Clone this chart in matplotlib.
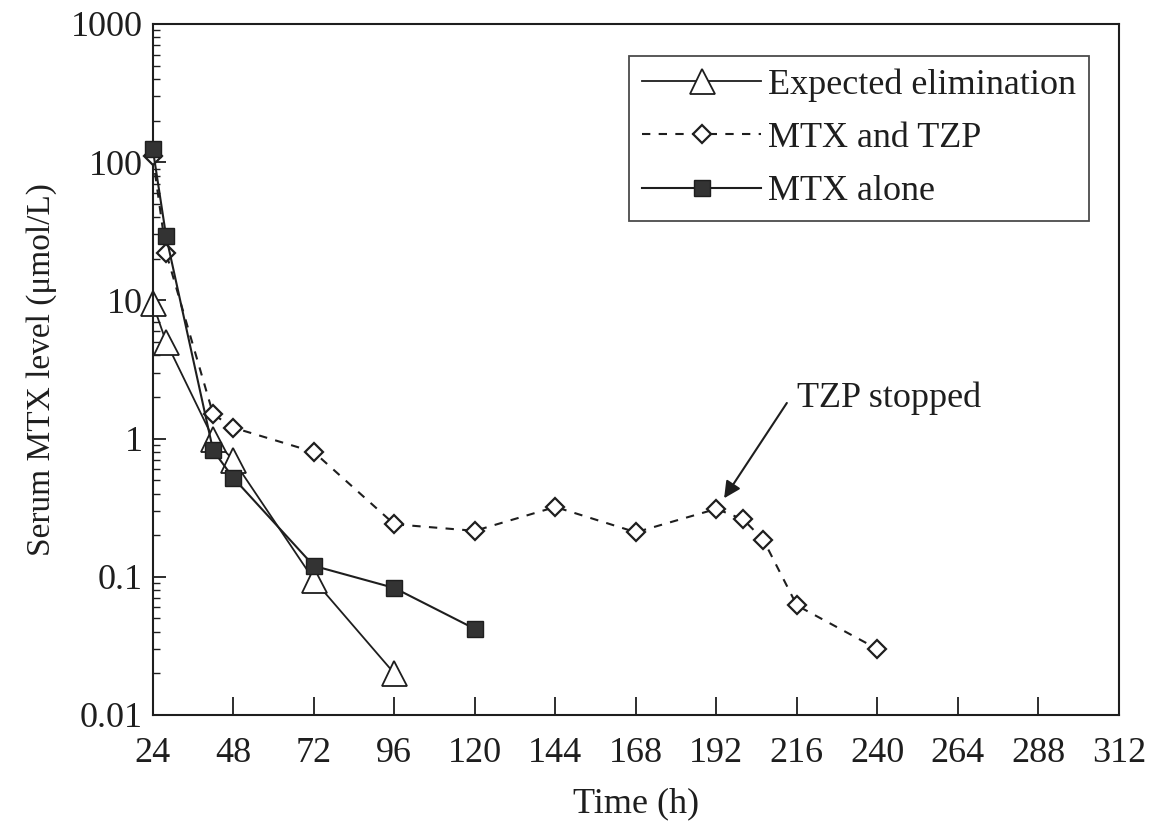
import matplotlib.pyplot as plt

plt.rcParams['font.family'] = ['Liberation Serif', 'DejaVu Serif']

# expected elimination
exp_t = [24, 28, 42, 48, 72, 96]
exp_c = [9.5, 5.0, 1.0, 0.7, 0.095, 0.02]

# MTX and TZP
tzp_t = [24, 28, 42, 48, 72, 96, 120, 144, 168, 192, 200, 206, 216, 240]
tzp_c = [110, 22, 1.5, 1.2, 0.8, 0.24, 0.215, 0.32, 0.21, 0.31, 0.26, 0.185, 0.062, 0.03]

# MTX alone
alone_t = [24, 28, 42, 48, 72, 96, 120]
alone_c = [125, 29, 0.82, 0.52, 0.12, 0.083, 0.042]

xticks = list(range(24, 313, 24))
yticks = [0.01, 0.1, 1, 10, 100, 1000]
ytick_labels = ['0.01', '0.1', '1', '10', '100', '1000']

ink = '#1e1e1e'

fig = plt.figure(figsize=(11.51, 8.24), dpi=100)
ax = fig.add_axes([0.1327, 0.1323, 0.8395, 0.8386])

ax.plot(exp_t, exp_c, '-', color=ink, lw=1.3, marker='^', ms=18,
        mfc='white', mec=ink, mew=1.3, label='Expected elimination',
        zorder=2, clip_on=False)
ax.plot(tzp_t, tzp_c, '--', color=ink, lw=1.5, dashes=(4, 4), marker='D', ms=9.5,
        mfc='white', mec=ink, mew=1.6, label='MTX and TZP', zorder=3, clip_on=False)
ax.plot(alone_t, alone_c, '-', color=ink, lw=1.5, marker='s', ms=11,
        mfc='#333333', mec=ink, mew=1.0, label='MTX alone', zorder=4, clip_on=False)

ax.set_yscale('log')
ax.set_ylim(0.01, 1000)
ax.set_xlim(24, 312)
ax.set_xticks(xticks)
ax.set_yticks(yticks)
ax.set_yticklabels(ytick_labels)

ax.tick_params(axis='both', which='major', direction='in', labelsize=26,
               colors=ink, width=1.3)
ax.tick_params(axis='x', length=13, pad=16)
ax.tick_params(axis='y', which='major', length=9, pad=7)
ax.tick_params(axis='y', which='minor', direction='in', length=5, width=1.0, colors=ink)
ax.tick_params(top=False, right=False, which='both')

for s in ax.spines.values():
    s.set_linewidth(1.5)
    s.set_color(ink)

ax.set_xlabel('Time (h)', fontsize=26, color=ink, labelpad=12)
ax.set_ylabel('Serum MTX level (\u03bcmol/L)', fontsize=24, color=ink, labelpad=10)

ax.text(216, 1.97, 'TZP stopped', fontsize=26, color=ink, va='center', ha='left')
ax.annotate('', xy=(194.3, 0.37), xytext=(213, 1.81),
            arrowprops=dict(arrowstyle='-|>', color=ink, lw=1.5,
                            mutation_scale=25, shrinkA=0, shrinkB=0))

leg = ax.legend(loc='upper right', fontsize=26, frameon=True, fancybox=False,
                edgecolor=ink, handlelength=3.3, handletextpad=0.2,
                borderpad=0.35, labelspacing=0.55, borderaxespad=0,
                bbox_to_anchor=(0.969, 0.954))
leg.get_frame().set_linewidth(1.3)
for t in leg.get_texts():
    t.set_color(ink)

fig.savefig('out.png', dpi=100)
